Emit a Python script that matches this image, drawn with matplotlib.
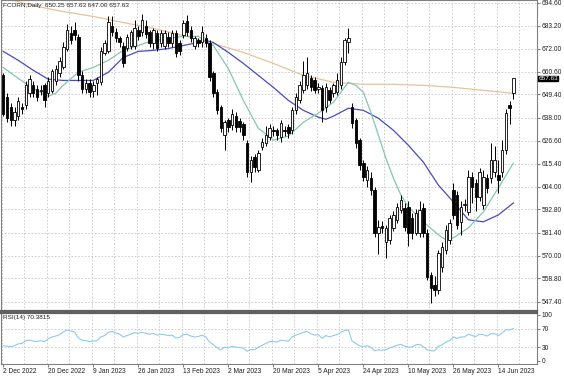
import matplotlib
matplotlib.use("Agg")
import matplotlib.pyplot as plt
import numpy as np

plt.rcParams["font.family"] = ["Liberation Sans", "DejaVu Sans"]

# ---------------- data ----------------
opens = [659, 648, 643, 637, 639, 643, 644, 650, 654, 652, 651, 654, 650, 651, 656, 660, 663, 672, 679.5, 681,
         677.5, 659, 652, 655, 651, 655, 655.5, 670, 671, 683, 680, 677, 673.5, 672.5, 673.5, 673.5, 681, 680, 683, 680,
         674.5, 679.5, 674.5, 673.5, 677.5, 674.5, 679.5, 674.5, 678.5, 685.8, 681, 673.5, 676, 675, 677, 674.5, 660, 650.5, 643, 629.4,
         636.7, 634.3, 639, 636.5, 635, 625.5, 611.2, 618.5, 612.2, 623.5, 625.4, 628.4, 632, 631.8, 628.4, 631.8, 633.3, 631.8, 641.6, 646.5,
         651.4, 654, 657.3, 656.3, 652, 652.4, 643, 651.4, 650, 650.5, 653.9, 665.2, 675, 643, 636.7, 626.9, 615.6, 607.3, 608.3, 602.4,
         581.3, 584.7, 576.8, 577.8, 583.7, 587.7, 592.6, 593.6, 594, 588.7, 581.3, 581.3, 593.6, 581.3, 560.7, 555.8, 553.3, 564.6, 572.9, 577.8,
         602.4, 600, 586.7, 595, 591.6, 608.7, 605.8, 599, 595, 608.3, 608.3, 611.2, 609.7, 611.2, 622, 644.1, 650.25]
closes = [640, 638, 637, 641, 646, 642, 654, 657, 650, 648, 651.5, 646.5, 656, 661, 662, 666, 673, 681, 676, 678.5,
          658.8, 652, 655, 650.5, 654, 657, 671, 674.5, 685, 680, 677, 675, 665, 677.5, 680, 682, 678, 686, 679, 674.5,
          681, 672.5, 679.5, 679.5, 674.5, 679.5, 670, 671, 684.8, 680, 677, 677, 674.5, 680, 674.5, 658, 650, 641.6, 633, 635.7,
          633.3, 640, 633.3, 633.3, 629.4, 611.2, 617.1, 613.6, 620.5, 626, 629.4, 632.8, 631.5, 629.4, 635.3, 631.5, 630.3, 641.6, 648, 653.9,
          658.8, 660, 653, 651.4, 653, 641.6, 652.9, 646.5, 653.9, 656.3, 665.2, 676, 677, 635.3, 625.4, 614.6, 608.7, 612.2, 602.4, 581.3,
          584.2, 583.7, 583.7, 588.7, 590.1, 594, 597.5, 584.2, 581.3, 581.3, 591, 592.6, 581.3, 559.7, 554.3, 553.3, 571.4, 574.4, 582.7, 586.2,
          590.1, 585.2, 594, 595.5, 608.7, 603.8, 599, 611.2, 608.7, 603.4, 617.1, 617.1, 607.3, 622, 640.2, 642.6, 657.63]
highs = [660, 650, 645, 643, 648, 645, 656, 659, 656, 654, 654, 655, 658, 662, 664, 668, 675, 684, 683, 685,
         679, 661, 657, 657, 656, 658, 673, 676, 688, 688, 682, 678, 675, 679, 681, 686, 683, 689, 686, 681,
         682, 681, 681, 681, 680, 681, 681, 676, 686, 688.5, 683, 678, 677, 683, 679, 676, 661, 652, 644, 637,
         638, 642, 641, 638, 636, 627, 619, 620, 622, 628, 634, 635, 634, 633, 637, 634, 635, 643, 650, 656,
         666, 668, 659, 658, 655, 654, 655, 653, 655, 660, 668, 677, 682, 645, 638, 628, 617, 614, 611, 604,
         587.7, 587, 585, 590, 592, 596, 600, 596, 597, 591, 593, 597, 596, 583, 562, 560, 573, 577, 585, 588,
         606, 602, 597, 598, 612, 611, 608, 613, 612, 610, 625.5, 624, 617, 627, 642, 646, 657.63]
lows = [639, 636, 634, 634, 637, 640, 642, 648, 648, 646, 649, 643, 648, 650, 654, 658, 662, 671, 674, 676,
        656, 650, 650, 648, 648, 649, 654, 669, 670, 678, 675, 673, 663, 671, 672, 672, 676, 678, 677, 673,
        672, 671, 673, 672, 673, 673, 668, 669, 677, 678, 675, 672, 673, 673, 673, 656, 648, 640, 631, 622,
        631, 632, 631, 631, 627, 609, 606.3, 611, 611, 622, 624, 627, 629, 627, 626, 629, 628, 630, 640, 645,
        650, 652, 651, 650, 650, 636, 641, 645, 648, 649, 652, 664, 669.6, 633, 623, 612, 607, 604, 600, 579,
        571, 581, 569, 576, 582, 586, 591, 582, 575, 578, 580, 579, 579, 558, 546.9, 550, 551, 562, 571, 576,
        588, 583, 580, 592, 590, 596, 592, 597, 593, 601, 606, 609, 601, 609, 620, 635, 647]

date_labels = ["2 Dec 2022", "20 Dec 2022", "9 Jan 2023", "26 Jan 2023", "13 Feb 2023", "2 Mar 2023",
               "20 Mar 2023", "5 Apr 2023", "24 Apr 2023", "10 May 2023", "26 May 2023", "14 Jun 2023"]
date_label_bars = [0, 12, 24, 36, 48, 60, 72, 84, 96, 108, 120, 132]

# moving averages (bar index, value)
slow_ma_bars = [0, 8, 16, 24, 32, 40, 48, 56, 64, 72, 80, 88, 96, 104, 112, 120, 128, 136]
slow_ma_vals = [697.0, 693.1, 690.2, 687.8, 684.8, 681.9, 678.4, 674.5, 670.1, 664.7, 658.8, 655.4, 654.4, 654.4,
                653.9, 652.9, 651.4, 650.0]
mid_ma_bars = [0, 4, 8, 12, 16, 20, 24, 28, 32, 36, 40, 44, 48, 52, 54, 56, 60, 64, 68, 72, 76, 80, 84, 86, 88,
               92, 96, 100, 104, 108, 112, 116, 120, 124, 128, 132, 136]
mid_ma_vals = [670.6, 666.2, 661.3, 656.9, 656.3, 656.3, 656.3, 660.3, 667.6, 670.6, 671.1, 672.0, 673.5, 675.0,
               676.0, 675.0, 670.1, 664.7, 658.8, 652.9, 646.5, 641.6, 638.2, 637.2, 638.7, 642.6, 641.6, 637.7,
               631.8, 624.4, 616.1, 604.8, 596.5, 587.7, 586.7, 590.1, 596.0]
fast_ma_bars = [0, 4, 8, 12, 14, 16, 20, 24, 28, 32, 36, 40, 44, 48, 52, 56, 60, 64, 68, 72, 76, 80, 84, 88, 92,
                94, 96, 98, 100, 102, 104, 106, 108, 112, 116, 118, 120, 124, 128, 132, 136]
fast_ma_vals = [662.7, 657.3, 652.4, 648.5, 650.0, 653.9, 660.3, 662.7, 666.2, 671.1, 673.5, 676.0, 677.0, 678.0,
                678.0, 673.5, 662.2, 646.5, 632.8, 626.9, 628.9, 635.7, 640.2, 645.5, 655.4, 653.9, 650.5, 640.6,
                629.4, 618.1, 608.3, 599.9, 594.0, 586.7, 580.3, 577.8, 578.8, 583.7, 591.6, 603.4, 615.6]

rsi_vals = [33, 32, 31, 33, 37, 38, 44, 45, 43, 42, 44, 42, 48, 52, 54, 57, 63, 67, 65, 63,
            50, 45, 44, 42, 43, 44, 52, 55, 62, 64, 61, 58, 52, 55, 58, 61, 60, 62, 60, 58,
            60, 56, 58, 57, 55, 56, 50, 51, 57, 58, 54, 52, 53, 56, 52, 41, 35, 29, 24, 30,
            28, 32, 30, 29, 28, 21, 25, 24, 30, 34, 38, 42, 42, 41, 45, 44, 43, 52, 56, 59,
            62, 64, 59, 56, 57, 49, 55, 52, 55, 57, 62, 66, 67, 43, 38, 33, 31, 33, 30, 22,
            24, 23, 24, 28, 31, 34, 36, 32, 30, 30, 35, 36, 31, 24, 22, 22, 32, 35, 41, 44,
            52, 49, 52, 52, 58, 55, 53, 58, 57, 54, 59, 59, 55, 61, 68, 67, 70.38]

price_ticks = [694.60, 683.20, 672.00, 660.60, 649.40, 638.00, 626.60, 615.40, 604.00, 592.80, 581.40,
               570.00, 558.80, 547.40]
rsi_ticks = [100, 70, 30, 0]

# ---------------- figure ----------------
W, H = 564, 376
FS = 4.8
fig = plt.figure(figsize=(W / 100, H / 100), dpi=100)
fig.patch.set_facecolor("white")


def box(l, t, r, b):
    return [l / W, 1 - b / H, (r - l) / W, (b - t) / H]


ax = fig.add_axes(box(1, 0, 537, 311))
axr = fig.add_axes(box(1, 312.5, 537, 363.5))

o = np.array(opens, float)
c = np.array(closes, float)
hi = np.array(highs, float)
lo = np.array(lows, float)
x = np.arange(len(o))
up = c >= o

grid_kw = dict(color="#c8c8c8", lw=0.6, linestyle=(0, (2, 2)), zorder=0)
for a in (ax, axr):
    for g in range(0, 144, 6):
        a.axvline(g - 0.4, **grid_kw)
for p in price_ticks:
    ax.axhline(p, **grid_kw)
for r in (70, 30):
    axr.axhline(r, **grid_kw)

# moving averages
ax.plot(slow_ma_bars, slow_ma_vals, color="#e8c29a", lw=0.9, zorder=2)
ax.plot(mid_ma_bars, mid_ma_vals, color="#4a4ac0", lw=0.9, zorder=2)
ax.plot(fast_ma_bars, fast_ma_vals, color="#82c8ae", lw=0.9, zorder=2)

# candles
ax.vlines(x, lo, hi, color="black", lw=0.7, zorder=3)
body = np.maximum(np.abs(c - o), 0.4)
ax.bar(x[up], body[up], bottom=o[up], width=0.66, color="white", edgecolor="black", lw=0.6, zorder=4)
ax.bar(x[~up], body[~up], bottom=c[~up], width=0.66, color="black", edgecolor="black", lw=0.6, zorder=4)

ax.set_xlim(-0.6, 142.3)
ax.set_ylim(542.8, 695.9)
axr.set_xlim(-0.6, 142.3)
axr.set_ylim(-5.5, 105)

# RSI
axr.plot(x, rsi_vals, color="#8ccbf0", lw=0.8, zorder=2)

# axes styling
for a in (ax, axr):
    a.set_facecolor("white")
    for s in a.spines.values():
        s.set_color("#808080")
        s.set_linewidth(0.8)
    a.yaxis.tick_right()
ax.spines["bottom"].set_color("#606060")
ax.spines["bottom"].set_linewidth(1.6)
axr.spines["top"].set_color("#606060")
axr.spines["top"].set_linewidth(1.6)

ax.set_yticks(price_ticks)
ax.set_yticklabels([f"{p:.2f}" for p in price_ticks])
ax.tick_params(axis="y", length=2, pad=1.5, labelsize=FS, colors="#808080", labelcolor="#202020")
ax.set_xticks([])

axr.set_yticks(rsi_ticks)
axr.set_yticklabels([str(r) for r in rsi_ticks])
axr.tick_params(axis="y", length=2, pad=1.5, labelsize=FS, colors="#808080", labelcolor="#202020")
axr.set_xticks(date_label_bars)
axr.set_xticklabels(date_labels)
axr.tick_params(axis="x", length=2, pad=1, labelsize=FS, colors="#808080", labelcolor="#202020")
for t in axr.get_xticklabels():
    t.set_horizontalalignment("left")

# texts
fig.text(3 / W, 1 - 5 / H, "FCORN,Daily  650.25 657.63 647.00 657.63", fontsize=4.6,
         ha="left", va="center", color="#202020")
axr.text(0.004, 0.9, "RSI(14) 70.3815", transform=axr.transAxes, fontsize=4.6,
         ha="left", va="center", color="#202020")
ax.annotate(f"{closes[-1]:.2f}", xy=(1.0, closes[-1]), xycoords=("axes fraction", "data"),
            xytext=(1, -0.6), textcoords="offset points", fontsize=4.6, color="white",
            ha="left", va="center",
            bbox=dict(boxstyle="square,pad=0.05", fc="black", ec="black"), annotation_clip=False)

fig.savefig("out.png", dpi=100, facecolor="white")
